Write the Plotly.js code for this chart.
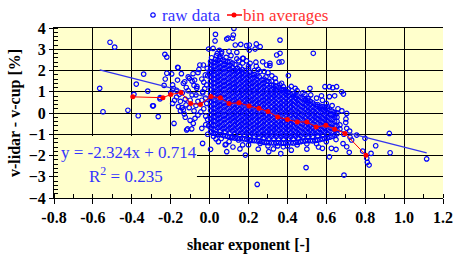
<!DOCTYPE html>
<html>
<head>
<meta charset="utf-8">
<script src="https://cdn.plot.ly/plotly-3.0.1.min.js"></script>
<style>html,body{margin:0;padding:0;background:#fff;}#chart{width:454px;height:254px;}</style>
</head>
<body>
<div id="chart"></div>
<script>
// ---- raw data: scattered points ----
const outlierX = [-0.512,-0.488,-0.565,-0.548,-0.42,-0.367,-0.389,-0.377,-0.339,-0.318,-0.293,-0.264,-0.234,-0.255,-0.22,-0.164,-0.195,-0.183,-0.142,-0.125,-0.113,-0.092,-0.05,-0.04,0.005,-0.036,0.08,
  -0.23,-0.22,-0.162,-0.022,-0.005,0.028,0.03,0.088,0.125,0.118,0.132,0.16,0.19,-0.228,-0.19,-0.17,-0.104,-0.09,-0.128,-0.066,-0.255,-0.289,-0.156,-0.121,-0.07,-0.036,-0.015,-0.001,-0.032,
  0.362,0.24,0.204,0.26,0.234,0.204,0.533,0.345,0.17,0.238,0.273,0.357,0.372,0.293,0.31,0.405,0.337,0.362,0.379,0.405,0.44,0.516,0.593,0.616,0.653,0.49,0.575,0.616,0.507,0.605,
  0.633,0.643,0.679,0.688,0.705,0.701,0.645,0.67,0.756,0.799,0.924,0.854,0.928,0.83,0.718,0.705,0.808,0.811,0.82,0.787,1.116,0.691,0.686,0.65,0.722,0.705,0.73,
  0.245,0.496,0.616,0.184,0.366,0.304,0.328,0.379,0.56,0.58,0.626,0.17,0.208,0.26,
  -0.084,-0.075,0.033,0.045,0.084,0.088,0.156,0.114,0.148,-0.118,-0.135,-0.077,0.018,0.04,0.062,0.053,0.095,0.122,0.173,0.208,0.31,0.362,
  -0.14,-0.12,-0.1,-0.08,-0.06,-0.04,-0.03,-0.02,-0.01,-0.2,-0.18,-0.16,-0.13,-0.06,-0.02,
  0.15,0.2,0.25,0.28,0.32,0.34,0.37,0.42,0.45,0.48,0.52,0.55,0.58,0.6,0.63,0.66,0.68,0.7,0.67,0.69,0.72,
  0.1,0.2,0.3,0.35,0.4,0.45,0.5,0.55,0.6,0.65,0.12,0.25,0.42,0.5,0.02,0.06,-0.01,
  -0.19,-0.185,-0.17,-0.165,-0.15,-0.145,-0.135,-0.125,-0.11,-0.105,-0.09,-0.085,-0.07,-0.065,-0.055,-0.045,-0.035,-0.03,-0.02,-0.015,-0.01,-0.005,-0.012,-0.025,-0.04,-0.06,-0.08,-0.1,-0.15,-0.11,
  0.01,0.035,0.06,0.085,0.11,0.14,0.17,0.2,0.23,0.26,0.29,0.32,0.14,0.19,0.24,0.05,0.1,0.3];
const outlierY = [3.33,3.1,1.16,0.06,0.13,-0.13,0.88,1.36,1.83,1.03,0.34,-0.17,1.3,0.72,1.87,2.15,1.84,-0.49,0.25,-0.2,-0.75,-0.75,2.26,-0.72,-1.71,-1.43,-1.5,
  2.76,2.63,2.13,1.79,3.01,3.39,3.7,3.48,3.98,3.52,3.2,3.23,3.17,1.6,1.32,1.07,1.63,1.5,1.47,1.16,0.66,0.34,0.88,0.38,0.85,1.0,1.32,1.94,2.26,
  3.43,3.25,3.2,3.12,3.01,2.96,2.81,2.73,2.57,2.39,2.41,2.39,2.41,2.26,2.23,1.76,1.63,1.32,1.24,1.13,1.16,1.16,1.24,1.24,1.24,0.88,0.81,0.77,0.69,0.3,
  1.19,0.81,1.0,0.89,-0.02,-0.28,-0.09,-0.56,-1.04,-1.19,-0.96,-1.54,-1.87,-1.9,-1.85,-1.59,-2.13,-2.32,-2.45,-1.79,-2.16,-2.92,-1.44,-1.71,-1.14,-0.72,-1.27,
  -3.36,-2.57,-2.06,-1.98,-1.91,-1.82,-1.69,-1.59,-1.6,-1.66,-1.66,-1.5,-1.27,-1.43,
  -0.49,-0.25,-1.22,-1.35,-1.47,-1.82,-1.69,-1.16,-1.27,-0.8,1.4,1.55,3.04,2.81,2.88,2.65,3.52,3.67,2.57,2.34,2.34,2.81,
  0.95,1.2,0.6,1.3,0.55,1.6,0.2,0.7,-0.3,0.95,0.6,0.3,-0.05,-0.1,-0.55,
  2.45,2.2,2.05,1.95,1.75,1.45,1.4,1.25,1.05,0.95,0.85,0.7,0.6,0.45,0.35,0.2,0.1,-0.45,-0.75,-1.0,-0.85,
  -1.35,-1.5,-1.55,-1.55,-1.55,-1.5,-1.45,-1.45,-1.35,-1.25,-1.6,-1.7,-1.75,-1.7,-1.1,-1.2,-1.0,
  0.45,1.15,0.75,1.55,0.55,1.85,0.15,0.65,1.05,0.25,0.85,1.85,0.35,1.25,2.05,0.05,0.95,1.45,-0.15,0.45,1.75,-0.6,2.1,1.15,0.6,1.9,0.1,-0.35,0.1,1.7,
  2.6,2.7,2.8,2.62,2.7,2.55,2.35,2.1,2.0,1.95,1.7,1.5,2.85,2.45,2.2,2.95,2.9,1.9];

// ---- raw data: dense core of the cloud, read column by column ----
const coreX = [0.005,0.03,0.055,0.08,0.105,0.13,0.155,0.18,0.205,0.23,0.255,0.28,0.305,0.33,0.355,0.38,0.405,0.43,0.455,0.48,0.505,0.53,0.555,0.58,0.605,0.63,0.655];
const coreY = [
  [-0.88,-0.69,-0.47,-0.28,-0.09,0.12,0.31,0.52,0.71,0.9,1.11,1.3,1.49,1.7,1.89,2.08,2.27,2.42],
  [-0.98,-0.79,-0.58,-0.39,-0.18,0.02,0.21,0.42,0.6,0.81,1.01,1.2,1.41,1.6,1.8,2.01,2.2,2.39,2.52],
  [-1.02,-0.83,-0.62,-0.41,-0.22,-0.03,0.18,0.37,0.58,0.77,0.97,1.18,1.37,1.58,1.77,1.97,2.16,2.35,2.55],
  [-1.08,-0.88,-0.69,-0.48,-0.29,-0.08,0.11,0.32,0.51,0.72,0.91,1.12,1.31,1.52,1.71,1.92,2.11,2.3,2.44],
  [-1.12,-0.92,-0.71,-0.52,-0.31,-0.12,0.08,0.27,0.48,0.67,0.88,1.07,1.28,1.47,1.68,1.87,2.06,2.25,2.41],
  [-1.18,-0.97,-0.78,-0.57,-0.38,-0.17,0.02,0.23,0.42,0.63,0.82,1.03,1.22,1.43,1.62,1.83,2.02,2.28],
  [-1.2,-1.01,-0.8,-0.61,-0.4,-0.21,0.0,0.19,0.4,0.59,0.8,0.99,1.2,1.39,1.6,1.79,1.98,2.18],
  [-1.22,-1.02,-0.83,-0.62,-0.43,-0.22,-0.03,0.18,0.37,0.58,0.77,0.98,1.17,1.38,1.57,1.78,1.99],
  [-1.28,-1.07,-0.88,-0.67,-0.48,-0.27,-0.08,0.13,0.32,0.53,0.72,0.93,1.12,1.33,1.52,1.73,1.9],
  [-1.3,-1.1,-0.9,-0.7,-0.51,-0.3,-0.11,0.1,0.29,0.5,0.69,0.9,1.09,1.3,1.49,1.68,1.82],
  [-1.32,-1.12,-0.93,-0.72,-0.53,-0.32,-0.13,0.08,0.27,0.48,0.67,0.88,1.07,1.28,1.47,1.7],
  [-1.38,-1.17,-0.98,-0.77,-0.58,-0.37,-0.18,0.03,0.22,0.43,0.62,0.83,1.02,1.23,1.42,1.6],
  [-1.4,-1.19,-1.0,-0.79,-0.6,-0.39,-0.2,0.01,0.2,0.41,0.6,0.81,1.0,1.21,1.48],
  [-1.41,-1.2,-1.01,-0.8,-0.61,-0.4,-0.21,0.0,0.19,0.4,0.59,0.8,0.99,1.18,1.31],
  [-1.4,-1.21,-1.0,-0.81,-0.6,-0.41,-0.2,-0.01,0.2,0.39,0.6,0.79,1.0,1.19],
  [-1.42,-1.22,-1.03,-0.82,-0.63,-0.42,-0.23,-0.02,0.17,0.38,0.57,0.78,0.97,1.1],
  [-1.4,-1.2,-1.01,-0.8,-0.61,-0.4,-0.21,0.0,0.19,0.4,0.59,0.8,0.98],
  [-1.41,-1.22,-1.02,-0.82,-0.63,-0.42,-0.23,-0.02,0.17,0.38,0.57,0.78,0.9],
  [-1.38,-1.18,-0.99,-0.78,-0.59,-0.38,-0.19,0.02,0.21,0.42,0.61,0.8],
  [-1.32,-1.13,-0.92,-0.73,-0.52,-0.33,-0.12,0.07,0.28,0.47,0.68],
  [-1.3,-1.11,-0.9,-0.71,-0.5,-0.31,-0.1,0.09,0.3,0.49,0.6],
  [-1.31,-1.1,-0.91,-0.7,-0.51,-0.3,-0.11,0.1,0.29,0.48],
  [-1.28,-1.08,-0.89,-0.68,-0.49,-0.28,-0.09,0.12,0.31,0.4],
  [-1.22,-1.03,-0.82,-0.63,-0.42,-0.23,-0.02,0.17,0.3],
  [-1.18,-0.99,-0.78,-0.59,-0.38,-0.19,0.02,0.2],
  [-1.1,-0.9,-0.71,-0.5,-0.31,-0.1,0.09],
  [-0.98,-0.79,-0.6,-0.39,-0.2,-0.01]
];
const core2X = [0.018,0.043,0.068,0.093,0.118,0.143,0.168,0.193,0.218,0.243,0.268,0.293,0.318,0.343,0.368,0.393,0.418,0.443,0.468,0.493,0.518,0.543,0.568,0.593,0.618,0.643];
const core2Y = [
  [-0.95,-0.76,-0.57,-0.37,-0.18,0.02,0.22,0.41,0.61,0.8,1.0,1.21,1.4,1.6,1.79,1.99,2.18,2.38],
  [-1.0,-0.7,-0.5,-0.29,-0.1,0.11,0.3,0.5,0.71,0.9,1.1,1.3,1.5,1.69,1.9,2.09,2.29,2.47],
  [-1.05,-0.75,-0.55,-0.34,-0.13,0.07,0.27,0.47,0.67,0.87,1.07,1.27,1.47,1.67,1.87,2.07,2.26,2.5],
  [-1.1,-0.8,-0.6,-0.39,-0.2,0.01,0.21,0.41,0.61,0.81,1.01,1.21,1.41,1.61,1.81,2.01,2.2,2.42],
  [-1.15,-0.85,-0.65,-0.44,-0.24,-0.04,0.16,0.37,0.57,0.77,0.97,1.17,1.37,1.57,1.77,1.97,2.15,2.35],
  [-1.19,-0.88,-0.68,-0.48,-0.28,-0.08,0.12,0.32,0.52,0.72,0.92,1.12,1.32,1.52,1.72,1.92,2.1],
  [-1.21,-0.92,-0.72,-0.52,-0.32,-0.12,0.09,0.29,0.49,0.69,0.89,1.09,1.29,1.49,1.69,1.89,2.05],
  [-1.25,-0.95,-0.75,-0.55,-0.35,-0.15,0.06,0.26,0.46,0.66,0.86,1.06,1.26,1.46,1.66,1.85],
  [-1.29,-0.99,-0.79,-0.59,-0.39,-0.19,0.02,0.22,0.42,0.62,0.82,1.02,1.22,1.42,1.62,1.8],
  [-1.31,-1.02,-0.82,-0.62,-0.42,-0.22,-0.02,0.18,0.38,0.58,0.78,0.98,1.18,1.38,1.58,1.75],
  [-1.35,-1.05,-0.85,-0.65,-0.45,-0.25,-0.05,0.15,0.35,0.55,0.75,0.95,1.15,1.35,1.55],
  [-1.39,-1.09,-0.89,-0.69,-0.49,-0.29,-0.09,0.11,0.31,0.51,0.71,0.91,1.11,1.31,1.5],
  [-1.4,-1.1,-0.9,-0.7,-0.5,-0.3,-0.1,0.1,0.3,0.5,0.7,0.9,1.1,1.3],
  [-1.41,-1.11,-0.91,-0.71,-0.51,-0.31,-0.11,0.09,0.29,0.49,0.69,0.89,1.09,1.25],
  [-1.41,-1.12,-0.92,-0.72,-0.52,-0.32,-0.12,0.08,0.28,0.48,0.68,0.88,1.1],
  [-1.41,-1.11,-0.91,-0.71,-0.51,-0.31,-0.11,0.09,0.29,0.49,0.69,0.89,1.02],
  [-1.4,-1.12,-0.92,-0.72,-0.52,-0.32,-0.12,0.08,0.28,0.48,0.68,0.86],
  [-1.39,-1.09,-0.89,-0.69,-0.49,-0.29,-0.09,0.11,0.31,0.51,0.71,0.84],
  [-1.35,-1.06,-0.86,-0.66,-0.46,-0.26,-0.06,0.14,0.34,0.54,0.73],
  [-1.31,-1.02,-0.82,-0.62,-0.42,-0.22,-0.02,0.18,0.38,0.58,0.64],
  [-1.3,-1.0,-0.8,-0.6,-0.4,-0.2,0.0,0.2,0.4,0.55],
  [-1.29,-0.99,-0.79,-0.59,-0.39,-0.19,0.01,0.21,0.4],
  [-1.25,-0.95,-0.75,-0.55,-0.35,-0.15,0.05,0.25,0.33],
  [-1.2,-0.9,-0.7,-0.5,-0.3,-0.1,0.1,0.25],
  [-1.14,-0.85,-0.65,-0.45,-0.25,-0.05,0.14],
  [-1.04,-0.8,-0.6,-0.4,-0.2,0.02]
];

// ---- bin averages ----
const binX = [-0.395,-0.24,-0.2,-0.147,-0.097,-0.047,0.007,0.055,0.10,0.151,0.203,0.254,0.30,0.35,0.40,0.451,0.50,0.548,0.598,0.643,0.696,0.804];
const binY = [0.76,0.72,0.87,0.96,0.45,0.4,0.78,0.72,0.45,0.48,0.33,0.22,0.07,-0.19,-0.31,-0.42,-0.42,-0.66,-0.58,-0.77,-0.96,-1.99];

// ---- linear fit ----
const fitSlope = -2.324;
const fitIntercept = 0.714;
const fitR2 = 0.235;
const fitXEnds = [-0.565, 1.116];

// ---- axes / legend labels ----
const xTicks = [-0.8,-0.6,-0.4,-0.2,0.0,0.2,0.4,0.6,0.8,1.0,1.2];
const xTickText = ['-0.8','-0.6','-0.4','-0.2','0.0','0.2','0.4','0.6','0.8','1.0','1.2'];
const yTicks = [-4,-3,-2,-1,0,1,2,3,4];
const seriesNames = ['raw data', 'bin averages'];

const rawX = [], rawY = [];
coreX.forEach((cx, i) => coreY[i].forEach(v => { rawX.push(cx); rawY.push(v); }));
core2X.forEach((cx, i) => core2Y[i].forEach(v => { rawX.push(cx); rawY.push(v); }));
outlierX.forEach((v, i) => { rawX.push(v); rawY.push(outlierY[i]); });

const fitY = fitXEnds.map(x => fitSlope * x + fitIntercept);

const FONT = 'Liberation Serif, Times New Roman, serif';
const BLUE = '#0000ff';
const TXTBLUE = '#3333ff';
const RED = '#ff0000';
const TXTRED = '#ff3333';

// plot-area geometry (px) used to place the legend row above the plot
const M = {l: 54, r: 11, t: 28, b: 56};
const PW = 454 - M.l - M.r, PH = 254 - M.t - M.b;
const px = v => (v - M.l) / PW;          // page px -> paper x
const py = v => (254 - M.b - v) / PH;    // page px -> paper y
const LEG_Y = 15;

const traces = [
  {x: rawX, y: rawY, type: 'scatter', mode: 'markers', name: seriesNames[0], showlegend: false,
   marker: {symbol: 'circle-open', size: 4.5, color: BLUE, line: {width: 1.2, color: BLUE}}},
  {x: fitXEnds, y: fitY, type: 'scatter', mode: 'lines', showlegend: false,
   line: {color: '#3333ee', width: 1.2}, hoverinfo: 'skip'},
  {x: binX, y: binY, type: 'scatter', mode: 'lines+markers', name: seriesNames[1], showlegend: false,
   line: {color: RED, width: 1}, marker: {symbol: 'circle', size: 5, color: RED}}
];

const layout = {
  width: 454, height: 254,
  margin: M,
  paper_bgcolor: '#ffffff',
  plot_bgcolor: '#ffffcc',
  font: {family: FONT, size: 16, color: '#000'},
  showlegend: false,
  xaxis: {
    range: [-0.8, 1.2], tickmode: 'array', tickvals: xTicks, ticktext: xTickText,
    showgrid: true, gridcolor: '#000', gridwidth: 1, zeroline: false,
    showline: true, linecolor: '#000', linewidth: 1, mirror: true,
    ticks: 'outside', ticklen: 5, tickcolor: '#000', tickwidth: 1,
    tickfont: {family: FONT, size: 16, weight: 'bold'},
    minor: {dtick: 0.1, tick0: 0, ticks: 'inside', ticklen: 4, tickcolor: '#000', showgrid: false},
    title: {text: '<b>shear exponent [-]</b>', font: {family: FONT, size: 16}, standoff: 14}
  },
  yaxis: {
    range: [-4, 4], tickmode: 'array', tickvals: yTicks,
    showgrid: true, gridcolor: '#000', gridwidth: 1, zeroline: false,
    showline: true, linecolor: '#000', linewidth: 1,
    ticks: 'outside', ticklen: 4, tickcolor: '#000', tickwidth: 1,
    tickfont: {family: FONT, size: 16, weight: 'bold'},
    minor: {dtick: 0.2, tick0: 0, ticks: 'inside', ticklen: 4, tickcolor: '#000', showgrid: false},
    title: {text: '<b>v-lidar - v-cup [%]</b>', font: {family: FONT, size: 16}, standoff: 4}
  },
  shapes: [
    // background box behind the regression text (hides the grid there)
    {type: 'rect', xref: 'x', yref: 'y', x0: -0.8, x1: -0.065, y0: -4, y1: -1.08,
     fillcolor: '#ffffcc', line: {width: 0}, layer: 'between'},
    // legend symbols
    {type: 'circle', xref: 'paper', yref: 'paper', x0: px(150.8), x1: px(155.2), y0: py(LEG_Y + 2.2), y1: py(LEG_Y - 2.2),
     line: {color: BLUE, width: 1.2}, fillcolor: 'rgba(0,0,0,0)'},
    {type: 'line', xref: 'paper', yref: 'paper', x0: px(227), x1: px(242), y0: py(LEG_Y), y1: py(LEG_Y),
     line: {color: RED, width: 1.5}},
    {type: 'circle', xref: 'paper', yref: 'paper', x0: px(231.5), x1: px(236.5), y0: py(LEG_Y + 2.5), y1: py(LEG_Y - 2.5),
     line: {color: RED, width: 0}, fillcolor: RED}
  ],
  annotations: [
    {xref: 'paper', yref: 'paper', x: px(160), y: py(LEG_Y), xanchor: 'left', yanchor: 'middle', showarrow: false,
     text: seriesNames[0], font: {family: FONT, size: 17, color: TXTBLUE}},
    {xref: 'paper', yref: 'paper', x: px(241), y: py(LEG_Y), xanchor: 'left', yanchor: 'middle', showarrow: false,
     text: seriesNames[1], font: {family: FONT, size: 17, color: TXTRED}},
    {xref: 'x', yref: 'y', x: -0.772, y: -1.84, xanchor: 'left', yanchor: 'middle', showarrow: false,
     text: 'y = ' + fitSlope.toFixed(3) + 'x + ' + fitIntercept.toFixed(3),
     font: {family: FONT, size: 17, color: TXTBLUE}},
    {xref: 'x', yref: 'y', x: -0.43, y: -2.92, xanchor: 'center', yanchor: 'middle', showarrow: false,
     text: 'R<sup>2</sup> = ' + fitR2.toFixed(3),
     font: {family: FONT, size: 17, color: TXTBLUE}}
  ]
};

Plotly.newPlot('chart', traces, layout, {displayModeBar: false, staticPlot: true});
</script>
</body>
</html>
